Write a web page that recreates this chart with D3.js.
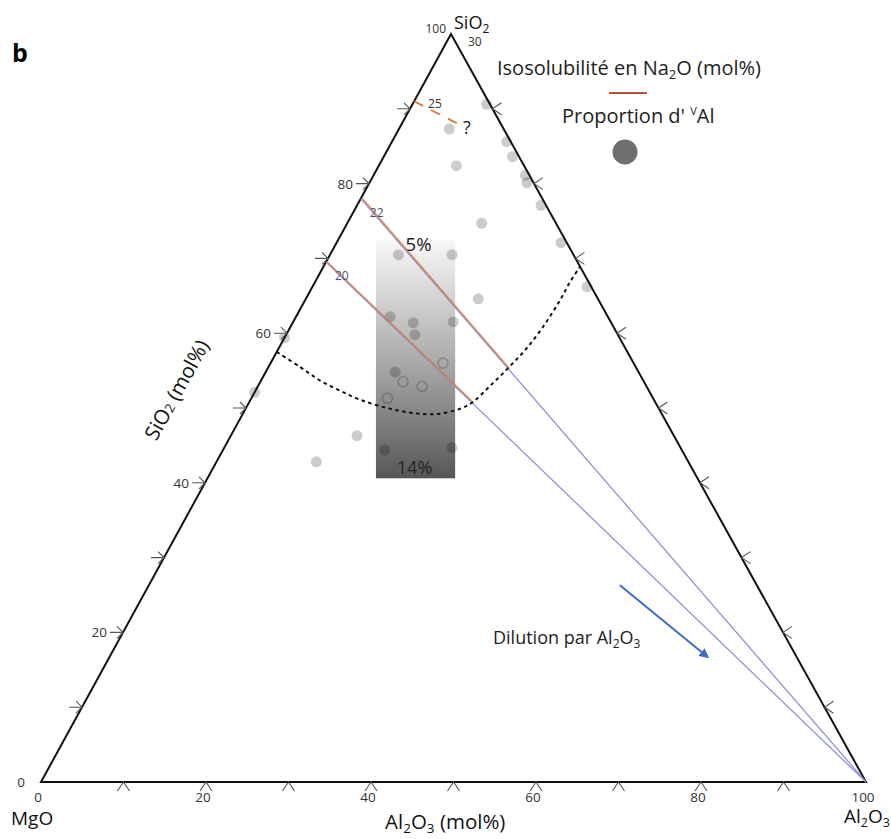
<!DOCTYPE html>
<html><head><meta charset="utf-8">
<script src="https://cdn.jsdelivr.net/npm/d3@7"></script>
<style>
html,body{margin:0;padding:0;background:#fff;}
svg{display:block;}
text{font-family:"Open Sans","Noto Sans",sans-serif;}
</style></head>
<body>
<svg id="c" width="891" height="839"></svg>
<script>
// ---------- DATA (ternary: SiO2, Al2O3 in mol%; MgO = rest) ----------
const tickValues = [10,20,30,40,50,60,70,80,90];
const leftTickLabels = [0,20,40,60,80];
const bottomTickLabels = [0,20,40,60,80,100];

// grey data points
const ptSiO2  = [87.3,82.4,90.6,85.6,83.6,81.1,80.1,77.1,72.1,66.2,74.7,64.6,70.5,70.5,62.2,61.4,59.8,61.5,54.8,46.3,42.8,44.4,44.7,59.4,52.1];
const ptAl2O3 = [ 6.1, 9.4, 9.0,13.9,15.6,18.4,19.1,22.3,27.2,33.3,16.3,20.9, 8.3,14.8,11.4,14.6,15.6,19.4,15.7,15.3,12.1,19.6,27.6, 0.0, 0.0];
// open circles
const openSiO2  = [56.0,53.5,52.9,51.3];
const openAl2O3 = [20.9,17.3,19.9,16.5];

// isosolubility lines (start on MgO-SiO2 join, heading to Al2O3 apex)
const isoLabels     = ["22","20"];
const isoStartSiO2  = [78.0,69.5];
const isoOrangeEndSiO2 = [55.3,50.8];
// dashed line "25"
const iso25SiO2  = [91.0,88.0];
const iso25Al2O3 = [0.0,6.8];

// dotted boundary curve
const curveSiO2  = [57.5,55.5,53.7,52.3,51.1,50.0,49.3,49.2,49.9,50.8,52.9,55.3,57.8,60.8,64.4,66.8,68.9];
const curveAl2O3 = [ 0.0, 3.8, 7.1,10.3,13.3,17.1,20.8,23.6,26.0,27.1,28.1,29.1,30.0,30.6,30.9,30.9,31.1];

// dilution arrow
const arrowSiO2  = [26.3,16.7];
const arrowAl2O3 = [57.1,72.5];

// gradient box (VAl proportion 5% -> 14%)
const boxSiO2 = [40.6,72.5];
const boxBaseX = [40.6,50.2];
const boxLabels = ["5%","14%"];

// ---------- SCALES ----------
const yS = d3.scaleLinear().domain([0,100]).range([782,34]);
const xBase = d3.scaleLinear().domain([0,100]).range([41,866]);
const xShift = d3.scaleLinear().domain([0,100]).range([0,410]);
const P = (s,a) => [xBase(a) + xShift(s), yS(s)];

const svg = d3.select("#c");

// gradient
const defs = svg.append("defs");
const lg = defs.append("linearGradient").attr("id","g").attr("x1",0).attr("y1",0).attr("x2",0).attr("y2",1);
lg.append("stop").attr("offset","0").attr("stop-color","#f8f8f8");
lg.append("stop").attr("offset","0.5").attr("stop-color","#acacac");
lg.append("stop").attr("offset","1").attr("stop-color","#575757");
defs.append("marker").attr("id","ah").attr("viewBox","0 0 10 10").attr("refX",8).attr("refY",5)
  .attr("markerWidth",5).attr("markerHeight",5).attr("orient","auto")
  .append("path").attr("d","M0,0 L10,5 L0,10 Z").attr("fill","#3b6cc6");

// gradient box
svg.append("rect")
  .attr("x",xBase(boxBaseX[0])).attr("width",xBase(boxBaseX[1])-xBase(boxBaseX[0]))
  .attr("y",yS(boxSiO2[1])).attr("height",yS(boxSiO2[0])-yS(boxSiO2[1]))
  .attr("fill","url(#g)");

// points
svg.append("g").selectAll("circle").data(ptSiO2).join("circle")
  .attr("cx",(d,i)=>P(d,ptAl2O3[i])[0]).attr("cy",(d,i)=>P(d,ptAl2O3[i])[1])
  .attr("r",5.5).attr("fill","#000").attr("fill-opacity",0.2);
svg.append("g").selectAll("circle").data(openSiO2).join("circle")
  .attr("cx",(d,i)=>P(d,openAl2O3[i])[0]).attr("cy",(d,i)=>P(d,openAl2O3[i])[1])
  .attr("r",5).attr("fill","none").attr("stroke","#000").attr("stroke-opacity",0.2).attr("stroke-width",1.6);

// box labels
svg.append("text").attr("x",(xBase(boxBaseX[0])+xBase(boxBaseX[1]))/2+3).attr("y",yS(boxSiO2[1])+11)
  .attr("text-anchor","middle").attr("font-size",18.5).attr("fill","#222").text(boxLabels[0]);
svg.append("text").attr("x",(xBase(boxBaseX[0])+xBase(boxBaseX[1]))/2-1).attr("y",yS(boxSiO2[0])-4)
  .attr("text-anchor","middle").attr("font-size",18).attr("fill","#222").text(boxLabels[1]);

// triangle
const A = P(100,0), B = P(0,0), C = P(0,100);
svg.append("path").attr("d",`M${A}L${B}L${C}Z`).attr("fill","none").attr("stroke","#111").attr("stroke-width",2);

// ticks
const tk = svg.append("g").attr("stroke","#555").attr("stroke-width",1.1).attr("fill","none");
tickValues.forEach(v=>{
  const [lx,ly] = P(v,0);
  tk.append("path").attr("d",`M${lx-13},${ly}L${lx},${ly}M${lx-6},${ly-6}L${lx},${ly}L${lx-6},${ly+6}`);
  const [rx,ry] = P(v,100-v);
  tk.append("path").attr("d",`M${rx+9},${ry-6}L${rx},${ry}L${rx+9},${ry+6}`);
  const [bx,by] = P(0,v);
  tk.append("path").attr("d",`M${bx-6},${by+9}L${bx},${by}L${bx+6},${by+9}`);
});

// tick labels
const tl = svg.append("g").attr("font-size",13.5).attr("fill","#333");
leftTickLabels.forEach(v=>{
  const [x,y] = P(v,0);
  tl.append("text").attr("x",x-16).attr("y",y+5).attr("text-anchor","end").text(v);
});
bottomTickLabels.forEach(v=>{
  const [x,y] = P(0,v);
  tl.append("text").attr("x",x-3).attr("y",y+20).attr("text-anchor","middle").text(v);
});
tl.append("text").attr("x",A[0]-5).attr("y",A[1]-1).attr("text-anchor","end").attr("font-size",12).text("100");
tl.append("text").attr("x",A[0]+17).attr("y",A[1]+12).attr("font-size",12).text("30");

// isosolubility / dilution lines
isoStartSiO2.forEach((s,i)=>{
  const p0 = P(s,0);
  svg.append("line").attr("x1",p0[0]).attr("y1",p0[1]).attr("x2",C[0]).attr("y2",C[1])
    .attr("stroke","#8f92d4").attr("stroke-width",1.3);
  const f = isoOrangeEndSiO2[i]/s;
  const p1 = P(isoOrangeEndSiO2[i], 100*(1-f));
  svg.append("line").attr("x1",p0[0]+1.6).attr("y1",p0[1]).attr("x2",p1[0]+1.6).attr("y2",p1[1])
    .attr("stroke","#d9733a").attr("stroke-width",1.4).attr("stroke-opacity",0.85);
  svg.append("text").attr("x",p0[0]+9).attr("y",p0[1]+18).attr("font-size",12).attr("fill","#4a4f80").text(isoLabels[i]);
});
// dashed 25
{
  const a0 = P(iso25SiO2[0],iso25Al2O3[0]), a1 = P(iso25SiO2[1],iso25Al2O3[1]);
  svg.append("line").attr("x1",a0[0]).attr("y1",a0[1]).attr("x2",a1[0]).attr("y2",a1[1])
    .attr("stroke","#d9753a").attr("stroke-width",1.8).attr("stroke-dasharray","10,9");
  svg.append("text").attr("x",a0[0]+14).attr("y",a0[1]+7).attr("font-size",12).attr("fill","#333").text("25");
  svg.append("text").attr("x",a1[0]+5).attr("y",a1[1]+10).attr("font-size",18).attr("fill","#222").text("?");
}

// dotted curve
svg.append("path").datum(curveSiO2.map((s,i)=>P(s,curveAl2O3[i])))
  .attr("d",d3.line().curve(d3.curveCatmullRom))
  .attr("fill","none").attr("stroke","#111").attr("stroke-width",2).attr("stroke-dasharray","3.5,3.5");

// dilution arrow
{
  const a0 = P(arrowSiO2[0],arrowAl2O3[0]), a1 = P(arrowSiO2[1],arrowAl2O3[1]);
  svg.append("line").attr("x1",a0[0]).attr("y1",a0[1]).attr("x2",a1[0]).attr("y2",a1[1])
    .attr("stroke","#3b6cc6").attr("stroke-width",2).attr("marker-end","url(#ah)");
  const t = svg.append("text").attr("x",493).attr("y",644).attr("font-size",18).attr("fill","#222");
  t.append("tspan").text("Dilution par Al");
  t.append("tspan").attr("font-size",12).attr("dy",4).text("2");
  t.append("tspan").attr("dy",-4).text("O");
  t.append("tspan").attr("font-size",12).attr("dy",4).text("3");
}

// vertex labels
{
  const t = svg.append("text").attr("x",454).attr("y",29).attr("font-size",18).attr("fill","#111");
  t.append("tspan").text("SiO");
  t.append("tspan").attr("font-size",12).attr("dy",4).text("2");
}
svg.append("text").attr("x",11).attr("y",825).attr("font-size",19).attr("fill","#111").text("MgO");
{
  const t = svg.append("text").attr("x",844).attr("y",823).attr("font-size",19).attr("fill","#111");
  t.append("tspan").text("Al");
  t.append("tspan").attr("font-size",12.5).attr("dy",4).text("2");
  t.append("tspan").attr("dy",-4).text("O");
  t.append("tspan").attr("font-size",12.5).attr("dy",4).text("3");
}
{
  const t = svg.append("text").attr("x",385).attr("y",829).attr("font-size",20.5).attr("fill","#111");
  t.append("tspan").text("Al");
  t.append("tspan").attr("font-size",13.5).attr("dy",4).text("2");
  t.append("tspan").attr("dy",-4).text("O");
  t.append("tspan").attr("font-size",13.5).attr("dy",4).text("3");
  t.append("tspan").attr("dy",-4).text(" (mol%)");
}
{
  const t = svg.append("text").attr("transform","translate(177,390) rotate(-61)")
    .attr("text-anchor","middle").attr("font-size",20.5).attr("fill","#111").attr("dy",7);
  t.append("tspan").text("SiO");
  t.append("tspan").attr("font-size",13).text("2");
  t.append("tspan").text(" (mol%)");
}

// panel letter
svg.append("text").attr("x",12).attr("y",62).attr("font-family","'Liberation Serif',serif")
  .attr("font-weight","bold").attr("font-size",25).attr("fill","#000").text("b");

// legend
{
  const t = svg.append("text").attr("x",497).attr("y",75).attr("font-size",20).attr("fill","#222");
  t.append("tspan").text("Isosolubilité en Na");
  t.append("tspan").attr("font-size",13).attr("dy",4).text("2");
  t.append("tspan").attr("dy",-4).text("O (mol%)");
  svg.append("line").attr("x1",609).attr("x2",647).attr("y1",93).attr("y2",93).attr("stroke","#b5533c").attr("stroke-width",2);
  const t2 = svg.append("text").attr("x",562).attr("y",123).attr("font-size",20).attr("fill","#222");
  t2.append("tspan").text("Proportion d' ");
  t2.append("tspan").attr("font-size",11).attr("dy",-8).text("V");
  t2.append("tspan").attr("dy",8).text("Al");
  svg.append("circle").attr("cx",625).attr("cy",152).attr("r",12.5).attr("fill","#6f6f6f");
}
</script>
</body></html>
